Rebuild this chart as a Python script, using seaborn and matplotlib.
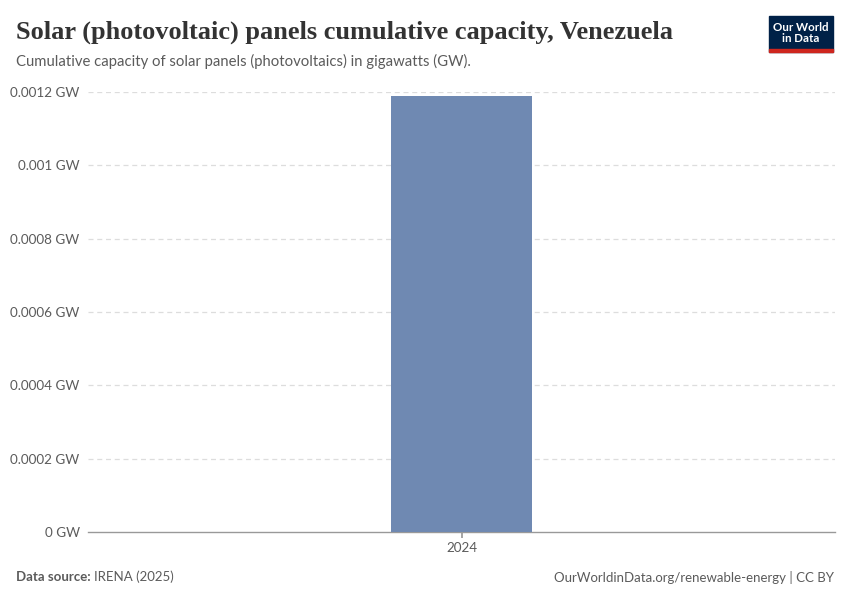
import matplotlib
matplotlib.use("Agg")
import matplotlib.pyplot as plt
import matplotlib.patches as mpatches
import seaborn as sns
import pandas as pd

years = ["2024"]
capacity_gw = [0.00119]
y_ticks = [0, 0.0002, 0.0004, 0.0006, 0.0008, 0.001, 0.0012]
y_labels = ["0 GW", "0.0002 GW", "0.0004 GW", "0.0006 GW", "0.0008 GW", "0.001 GW", "0.0012 GW"]

df = pd.DataFrame({"year": years, "capacity": capacity_gw})

sns.set_theme(style="white")
plt.rcParams["font.family"] = ["Lato", "DejaVu Sans"]

fig = plt.figure(figsize=(8.5, 6), dpi=100)
ax = fig.add_axes([88 / 850, 1 - 532 / 600, (835 - 88) / 850, (532 - 92) / 600])

sns.barplot(data=df, x="year", y="capacity", color="#6f89b2", width=0.8,
            saturation=1, linewidth=0, ax=ax, zorder=3)
ax.set_xlim(-2.12, 2.12)
ax.set_ylim(0, 0.0012)

ax.set_yticks(y_ticks)
ax.set_yticklabels(y_labels)
ax.set_xlabel("")
ax.set_ylabel("")
ax.tick_params(axis="y", length=0, labelsize=9.7, labelcolor="#5b5b5b", pad=6)
ax.tick_params(axis="x", length=4, color="#999999", labelsize=9.7, labelcolor="#5b5b5b", pad=3)
ax.xaxis.set_ticks_position("bottom")
for t in y_ticks[1:]:
    ax.axhline(t, color="#dddddd", linestyle=(0, (4, 3)), linewidth=0.9, zorder=1)
for s in ["top", "right", "left"]:
    ax.spines[s].set_visible(False)
ax.spines["bottom"].set_color("#999999")
ax.spines["bottom"].set_linewidth(1)

fig.text(16 / 850, 1 - 32 / 600, "Solar (photovoltaic) panels cumulative capacity, Venezuela",
         family=["Liberation Serif"], fontweight="bold", fontsize=19, color="#333333", va="center")
fig.text(16 / 850, 1 - 61 / 600, "Cumulative capacity of solar panels (photovoltaics) in gigawatts (GW).",
         fontsize=10.7, color="#5b5b5b", va="center")

fig.text(16 / 850, 1 - 577 / 600, "Data source:", fontsize=9.5, color="#5b5b5b",
         fontweight="bold", va="center")
fig.text(94 / 850, 1 - 577 / 600, "IRENA (2025)", fontsize=9.5, color="#5b5b5b", va="center")
fig.text(834 / 850, 1 - 577 / 600, "OurWorldinData.org/renewable-energy | CC BY",
         fontsize=9.5, color="#5b5b5b", va="center", ha="right")

# logo
logo = mpatches.Rectangle((769 / 850, 1 - 52 / 600), 64 / 850, 36 / 600,
                          transform=fig.transFigure, color="#002147", zorder=5)
bar_red = mpatches.Rectangle((769 / 850, 1 - 52 / 600), 64 / 850, 3 / 600,
                             transform=fig.transFigure, color="#ce261e", zorder=6)
fig.patches.extend([logo, bar_red])
fig.text(801 / 850, 1 - 33 / 600, "Our World\nin Data", fontsize=8.3, color="white",
         fontweight="bold", ha="center", va="center", linespacing=1.0, zorder=7)

fig.savefig("out.png", dpi=100)
plt.close(fig)
